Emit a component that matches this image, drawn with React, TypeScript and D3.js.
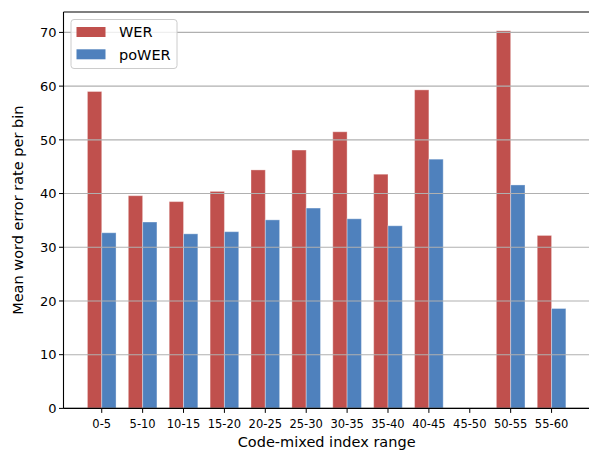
import * as d3 from "d3";

const categories = ["0-5", "5-10", "10-15", "15-20", "20-25", "25-30", "30-35", "35-40", "40-45", "45-50", "50-55", "55-60"];
const werValues = [59.0, 39.6, 38.5, 40.4, 44.4, 48.1, 51.5, 43.6, 59.3, 0, 70.3, 32.2];
const powerValues = [32.7, 34.7, 32.5, 32.9, 35.1, 37.3, 35.3, 34.0, 46.4, 0, 41.6, 18.6];
const yTicks = [0, 10, 20, 30, 40, 50, 60, 70];

const W = 589;
const H = 452;
const left = 63.5;
const bottom = 408.4;
const top = 12;
const barW = 0.35;

const series = [
  { name: "WER", values: werValues, color: "#c0504d", offset: -barW / 2 },
  { name: "poWER", values: powerValues, color: "#4f81bd", offset: barW / 2 },
];

export default function App() {
  const x = d3.scaleLinear().domain([-0.935, 11.935]).range([left, 589.8]);
  const y = d3.scaleLinear().domain([0, 73.8]).range([bottom, top]);
  const font = "DejaVu Sans, sans-serif";

  return (
    <svg width={W} height={H} style={{ position: "absolute", left: 0, top: 0 }} fontFamily={font}>
      <rect width={W} height={H} fill="#fff" />
      {/* bars */}
      {series.map((s) =>
        s.values.map((v, i) => {
          const x0 = x(i + s.offset - barW / 2);
          const x1 = x(i + s.offset + barW / 2);
          return (
            <rect
              key={s.name + i}
              x={x0}
              y={y(v)}
              width={x1 - x0}
              height={bottom - y(v)}
              fill={s.color}
              stroke="#fff"
              strokeOpacity={0.35}
              strokeWidth={v > 0 ? 1 : 0}
            />
          );
        })
      )}
      {/* grid over bars */}
      {yTicks.map((t) => (
        <line key={"g" + t} x1={left} x2={W} y1={y(t)} y2={y(t)} stroke="#b0b0b0" strokeWidth={1.1} />
      ))}
      {/* spines */}
      <line x1={left} x2={W} y1={top} y2={top} stroke="#555" strokeWidth={1.5} />
      <line x1={left} x2={left} y1={top} y2={bottom} stroke="#000" strokeWidth={1.1} />
      <line x1={left} x2={W} y1={bottom} y2={bottom} stroke="#000" strokeWidth={1.1} />
      {/* y ticks */}
      {yTicks.map((t) => (
        <g key={"y" + t}>
          <line x1={left - 4.5} x2={left} y1={y(t)} y2={y(t)} stroke="#000" strokeWidth={1} />
          <text x={left - 7} y={y(t)} dy="0.36em" textAnchor="end" fontSize={13} fill="#000">
            {t}
          </text>
        </g>
      ))}
      {/* x ticks */}
      {categories.map((c, i) => (
        <g key={"x" + c}>
          <line x1={x(i)} x2={x(i)} y1={bottom} y2={bottom + 4.5} stroke="#000" strokeWidth={1} />
          <text x={x(i)} y={bottom + 20} textAnchor="middle" fontSize={11.5} fill="#000">
            {c}
          </text>
        </g>
      ))}
      <text x={x(5.5)} y={447} textAnchor="middle" fontSize={14.5} fill="#000">
        Code-mixed index range
      </text>
      <text
        transform={`translate(23,${y(36.9)}) rotate(-90)`}
        textAnchor="middle"
        fontSize={14.5}
        fill="#000"
      >
        Mean word error rate per bin
      </text>
      {/* legend */}
      <rect x={71} y={19.5} width={106} height={49} rx={3} fill="#fff" fillOpacity={0.8} stroke="#ccc" strokeWidth={1} />
      {series.map((s, i) => (
        <g key={"l" + s.name}>
          <rect x={76.5} y={27 + i * 22.3} width={29} height={10} fill={s.color} />
          <text x={119} y={32 + i * 22.3} dy="0.36em" fontSize={14.5} fill="#000">
            {s.name}
          </text>
        </g>
      ))}
    </svg>
  );
}
